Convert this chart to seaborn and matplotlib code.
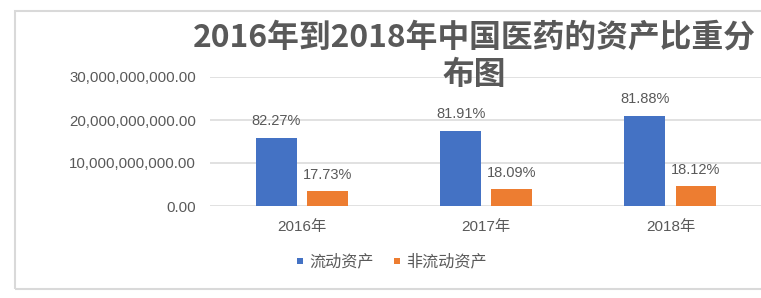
import matplotlib
matplotlib.use("Agg")
import matplotlib.pyplot as plt
import seaborn as sns
import pandas as pd
from matplotlib.patches import Rectangle
from matplotlib.lines import Line2D

# ---- data ----
years = ["2016年", "2017年", "2018年"]
series_names = ["流动资产", "非流动资产"]
current_assets = [15.9e9, 17.5e9, 20.9e9]
noncurrent_assets = [3.40e9, 3.85e9, 4.55e9]
current_pct = ["82.27%", "81.91%", "81.88%"]
noncurrent_pct = ["17.73%", "18.09%", "18.12%"]
yticks = [0, 10e9, 20e9, 30e9]
title = "2016年到2018年中国医药的资产比重分\n布图"

colors = ["#4472C4", "#ED7D31"]
gray = "#595959"
grid_c = "#D9D9D9"

df = pd.DataFrame({
    "year": years * 2,
    "type": [series_names[0]] * 3 + [series_names[1]] * 3,
    "value": current_assets + noncurrent_assets,
})

sns.set_style("white")
plt.rcParams["font.family"] = ["Liberation Sans", "Noto Sans CJK SC", "DejaVu Sans"]

W, H = 761, 298
fig = plt.figure(figsize=(W / 100, H / 100), dpi=100)
ax = fig.add_axes([210 / W, 1 - 206 / H, (W - 210) / W + 0.002, (206 - 77) / H])

sns.barplot(data=df, x="year", y="value", hue="type", palette=colors,
            width=0.555, gap=0.2, ax=ax, legend=False, linewidth=0,
            saturation=1)

ax.set_ylim(0, 30e9)
ax.set_yticks(yticks)
ax.set_yticklabels([f"{v:,.2f}" for v in yticks], fontsize=10.8, color=gray)
ax.tick_params(axis="y", length=0, pad=10)
ax.tick_params(axis="x", length=0, pad=10, labelsize=11, labelcolor=gray)
ax.set_xlabel("")
ax.set_ylabel("")
ax.grid(axis="y", color=grid_c, linewidth=1.1)
ax.set_axisbelow(True)
for s in ax.spines.values():
    s.set_visible(False)

for cont, labels in zip(ax.containers, [current_pct, noncurrent_pct]):
    ax.bar_label(cont, labels=labels, padding=7, fontsize=10.5, color=gray)

# title
fig.text(474 / W, 1 - 56 / H, title, ha="center", va="center",
         fontsize=22.9, fontweight="bold", color=gray,
         family=["Noto Sans CJK SC"], linespacing=1.22)

# legend
handles = [Line2D([0], [0], marker="s", linestyle="", markersize=5,
                  markerfacecolor=c, markeredgewidth=0) for c in colors]
fig.legend(handles, series_names, loc="center", bbox_to_anchor=(391 / W, 1 - 262 / H),
           ncol=2, frameon=False, handlelength=0.6, handletextpad=0.3,
           columnspacing=1.1, prop={"family": ["Noto Sans CJK SC"], "size": 11.6},
           labelcolor=gray)

# outer chart border
fig.patches.append(Rectangle((15 / W, 1 - 289 / H), 1.2, (289 - 11) / H,
                             transform=fig.transFigure, fill=False,
                             edgecolor=grid_c, linewidth=1.5, clip_on=False))

fig.savefig("out.png", dpi=100)
